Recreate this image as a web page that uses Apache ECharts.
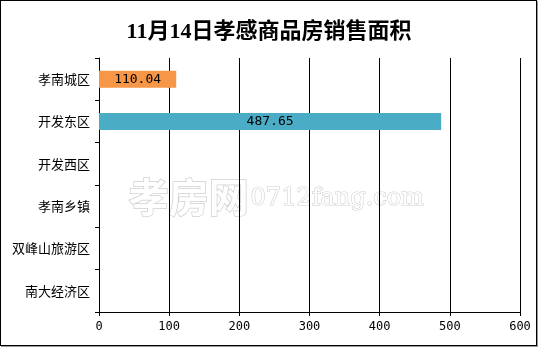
<!DOCTYPE html>
<html><head><meta charset="utf-8">
<script src="https://cdn.jsdelivr.net/npm/echarts@6/dist/echarts.min.js"></script>
<style>
html,body{margin:0;padding:0;background:#fff;}
#frame{position:absolute;left:0;top:0;width:535px;height:344px;border:1px solid #000;box-shadow:1px 1px 0 #999;}
#c{position:absolute;left:0;top:0;width:538px;height:347px;}
</style></head>
<body><div id="frame"></div><div id="c"></div>
<script>
const titleText = '11月14日孝感商品房销售面积';
const categories = ['孝南城区','开发东区','开发西区','孝南乡镇','双峰山旅游区','南大经济区'];
const values = [110.04, 487.65, null, null, null, null];
const barColors = ['#F79646','#4BACC6','#9BBB59','#8064A2','#C0504D','#4F81BD'];
const xTicks = [0,100,200,300,400,500,600];

const chart = echarts.init(document.getElementById('c'));
chart.setOption({
  animation:false,
  title:{text:titleText,left:'center',top:16,textStyle:{fontFamily:'"Liberation Serif","Noto Sans CJK SC"',fontSize:22,fontWeight:'bold',color:'#000'}},
  grid:{left:99,right:18,top:58,bottom:35,containLabel:false},
  graphic:[
    {type:'text',left:128,top:176,style:{text:'孝房网',font:'bold 40px "Noto Sans CJK SC"',fill:'#fff',stroke:'#d0d0d0',lineWidth:1.5}},
    {type:'text',left:250,top:186,style:{text:'0712fang.com',font:'24px "DejaVu Serif"',fill:'#fff',stroke:'#d0d0d0',lineWidth:1.2}}
  ],
  xAxis:{type:'value',min:xTicks[0],max:xTicks[xTicks.length-1],interval:100,
    axisLine:{show:true,lineStyle:{color:'#000'}},
    axisTick:{show:true,length:4,lineStyle:{color:'#000'}},
    axisLabel:{color:'#000',fontSize:12,margin:9,fontFamily:'DejaVu Sans Mono'},
    splitLine:{show:true,lineStyle:{color:'#000',width:1}}},
  yAxis:{type:'category',data:categories,inverse:true,
    axisLine:{show:true,lineStyle:{color:'#000'}},
    axisTick:{show:true,length:4,lineStyle:{color:'#000'}},
    axisLabel:{color:'#000',fontSize:13,margin:9,fontFamily:'Noto Sans CJK SC'}},
  series:[{type:'bar',barWidth:17,
    data:values.map((v,i)=>({value:v,itemStyle:{color:barColors[i]}})),
    label:{show:true,position:'inside',color:'#000',fontSize:13,fontFamily:'DejaVu Sans Mono',formatter:p=>p.value==null?'':p.value.toFixed(2)}}]
});
</script></body></html>
